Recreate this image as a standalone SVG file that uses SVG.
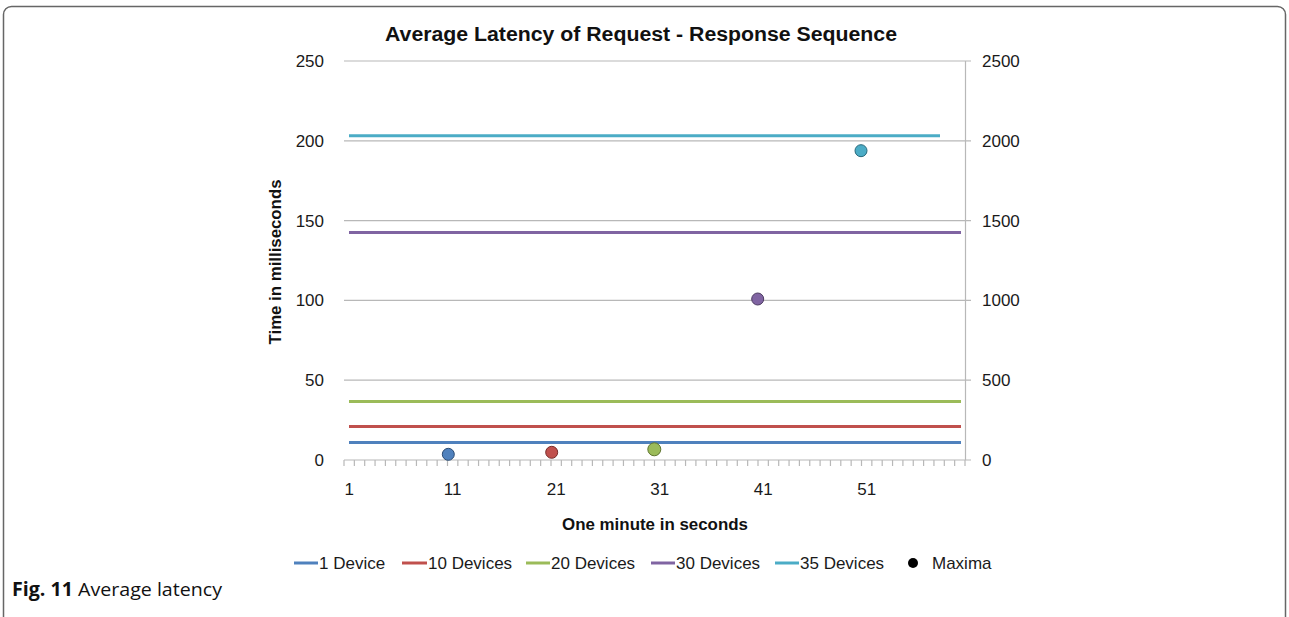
<svg xmlns="http://www.w3.org/2000/svg" width="1289" height="617" viewBox="0 0 1289 617">
  <style>
    .lbl { font-family: "Liberation Sans", Arial, sans-serif; font-size: 17px; fill: #1a1a1a; }
    .ttl { font-family: "Liberation Sans", Arial, sans-serif; font-weight: bold; fill: #111; }
    .grid { stroke: #b8b8b8; stroke-width: 1.2; fill: none; }
    .series { stroke-width: 3; fill: none; stroke-linecap: butt; }
    .cap { font-family: "Open Sans", "Liberation Sans", sans-serif; font-size: 19px; fill: #111; }
  </style>

  <!-- figure frame, open at the bottom edge -->
  <rect x="3.5" y="6.5" width="1282" height="640" rx="8" ry="8" fill="#fff" stroke="#666" stroke-width="1.5"/>

  <!-- chart title -->
  <text class="ttl" x="641" y="41" font-size="20" text-anchor="middle" textLength="512" lengthAdjust="spacingAndGlyphs">Average Latency of Request - Response Sequence</text>

  <!-- gridlines and axes -->
  <g id="axes">
    <line class="grid" x1="344" y1="61" x2="971" y2="61"/>
    <line class="grid" x1="344" y1="140.8" x2="971" y2="140.8"/>
    <line class="grid" x1="344" y1="220.6" x2="971" y2="220.6"/>
    <line class="grid" x1="344" y1="300.4" x2="971" y2="300.4"/>
    <line class="grid" x1="344" y1="380.2" x2="971" y2="380.2"/>
    <line class="grid" x1="344" y1="460" x2="971" y2="460"/>
    <!-- secondary (right) axis -->
    <line class="grid" x1="965.5" y1="61" x2="965.5" y2="460"/>
    <!-- category ticks -->
    <path class="grid" d="M344 460v6 M354.35 460v6 M364.7 460v6 M375.05 460v6 M385.4 460v6 M395.75 460v6 M406.1 460v6 M416.45 460v6 M426.8 460v6 M437.15 460v6 M447.5 460v6 M457.85 460v6 M468.2 460v6 M478.55 460v6 M488.9 460v6 M499.25 460v6 M509.6 460v6 M519.95 460v6 M530.3 460v6 M540.65 460v6 M551 460v6 M561.35 460v6 M571.7 460v6 M582.05 460v6 M592.4 460v6 M602.75 460v6 M613.1 460v6 M623.45 460v6 M633.8 460v6 M644.15 460v6 M654.5 460v6 M664.85 460v6 M675.2 460v6 M685.55 460v6 M695.9 460v6 M706.25 460v6 M716.6 460v6 M726.95 460v6 M737.3 460v6 M747.65 460v6 M758 460v6 M768.35 460v6 M778.7 460v6 M789.05 460v6 M799.4 460v6 M809.75 460v6 M820.1 460v6 M830.45 460v6 M840.8 460v6 M851.15 460v6 M861.5 460v6 M871.85 460v6 M882.2 460v6 M892.55 460v6 M902.9 460v6 M913.25 460v6 M923.6 460v6 M933.95 460v6 M944.3 460v6 M954.65 460v6 M965 460v6"/>
  </g>

  <!-- left axis labels -->
  <g id="y-left" class="lbl" text-anchor="end">
    <text x="324" y="67">250</text>
    <text x="324" y="147">200</text>
    <text x="324" y="227">150</text>
    <text x="324" y="306">100</text>
    <text x="324" y="386">50</text>
    <text x="324" y="466">0</text>
  </g>

  <!-- right axis labels -->
  <g id="y-right" class="lbl">
    <text x="982" y="67">2500</text>
    <text x="982" y="147">2000</text>
    <text x="982" y="227">1500</text>
    <text x="982" y="306">1000</text>
    <text x="982" y="386">500</text>
    <text x="982" y="466">0</text>
  </g>

  <!-- category labels -->
  <g id="x-labels" class="lbl" text-anchor="middle">
    <text x="349.2" y="495">1</text>
    <text x="452.7" y="495">11</text>
    <text x="556.2" y="495">21</text>
    <text x="659.7" y="495">31</text>
    <text x="763.2" y="495">41</text>
    <text x="866.7" y="495">51</text>
  </g>

  <!-- axis titles -->
  <text class="ttl" x="655" y="530" font-size="17" text-anchor="middle" textLength="186" lengthAdjust="spacingAndGlyphs">One minute in seconds</text>
  <text class="ttl" font-size="17" text-anchor="middle" transform="translate(281 262) rotate(-90)" textLength="165" lengthAdjust="spacingAndGlyphs">Time in milliseconds</text>

  <!-- series lines -->
  <g id="series">
    <line class="series" x1="349" y1="442.5" x2="961" y2="442.5" stroke="#4F81BD"/>
    <line class="series" x1="349" y1="426.5" x2="961" y2="426.5" stroke="#C0504D"/>
    <line class="series" x1="349" y1="401.5" x2="961" y2="401.5" stroke="#9BBB59"/>
    <line class="series" x1="349" y1="232.5" x2="961" y2="232.5" stroke="#8064A2"/>
    <line class="series" x1="349" y1="135.7" x2="940" y2="135.7" stroke="#4BACC6"/>
  </g>

  <!-- maxima markers -->
  <g id="maxima" stroke-width="1">
    <circle cx="448.3" cy="454.3" r="6" fill="#4F81BD" stroke="#2c4d75"/>
    <circle cx="551.7" cy="452.3" r="6" fill="#C0504D" stroke="#772c2a"/>
    <circle cx="654.3" cy="449.3" r="6.5" fill="#9BBB59" stroke="#5f7530"/>
    <circle cx="757.7" cy="299" r="6" fill="#8064A2" stroke="#4d3b62"/>
    <circle cx="861" cy="150.7" r="6" fill="#4BACC6" stroke="#276a7c"/>
  </g>

  <!-- legend -->
  <g id="legend">
    <g class="series">
      <line x1="294" y1="563" x2="318" y2="563" stroke="#4F81BD"/>
      <line x1="402" y1="563" x2="427" y2="563" stroke="#C0504D"/>
      <line x1="526" y1="563" x2="550" y2="563" stroke="#9BBB59"/>
      <line x1="651" y1="563" x2="675" y2="563" stroke="#8064A2"/>
      <line x1="775" y1="563" x2="799" y2="563" stroke="#4BACC6"/>
    </g>
    <circle cx="913" cy="563" r="5" fill="#000"/>
    <g class="lbl">
      <text x="319" y="569">1 Device</text>
      <text x="428" y="569">10 Devices</text>
      <text x="551" y="569">20 Devices</text>
      <text x="676" y="569">30 Devices</text>
      <text x="800" y="569">35 Devices</text>
      <text x="932" y="569">Maxima</text>
    </g>
  </g>

  <!-- caption -->
  <text class="cap" x="12" y="596" textLength="210" lengthAdjust="spacingAndGlyphs"><tspan font-weight="bold">Fig. 11</tspan> Average latency</text>
</svg>
